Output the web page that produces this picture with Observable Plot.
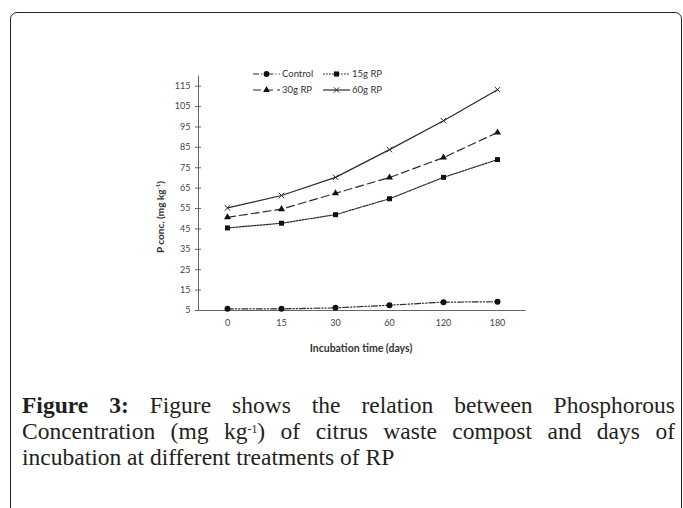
<!DOCTYPE html>
<html>
<head>
<meta charset="utf-8">
<script src="https://cdn.jsdelivr.net/npm/d3@7"></script>
<script src="https://cdn.jsdelivr.net/npm/@observablehq/plot@0.6"></script>
<style>
  html, body { margin: 0; padding: 0; background: #fff; }
  body { width: 683px; height: 508px; position: relative; overflow: hidden; }
  #frame { position: absolute; left: 10px; top: 12px; width: 672px; height: 540px; box-sizing: border-box;
           border: 1.5px solid #222; border-radius: 7px; }
  #chart { position: absolute; left: 0; top: 0; }
  .lg { position: absolute; font-family: Lato, "Open Sans", sans-serif; font-size: 9.5px; color: #333; display: flex; align-items: center; height: 12px; }
  .lg svg { margin-right: 2px; }
  #ylab { position: absolute; left: 160px; top: 217px; transform: translate(-50%, -50%) rotate(-90deg);
          font-family: Lato, sans-serif; font-weight: bold; font-size: 10px; color: #333; white-space: nowrap; }
  #xlab { position: absolute; left: 361px; top: 348px; transform: translate(-50%, -50%);
          font-family: Lato, sans-serif; font-weight: bold; font-size: 10.5px; color: #333; white-space: nowrap; }
  #caption { position: absolute; left: 22px; top: 391.5px; width: 653px;
             font-family: "Liberation Serif", "Times New Roman", serif; font-size: 23.5px; line-height: 26px; color: #231f20; }
  #caption .j { text-align: justify; text-align-last: justify; }
  #caption b { font-weight: bold; }
  sup { font-size: 0.6em; line-height: 0; vertical-align: 0.75em; }
  #caption sup { font-size: 0.5em; vertical-align: 0.52em; }
</style>
</head>
<body>
<div id="frame"></div>
<div id="chart"></div>
<div id="legend"></div>
<div id="ylab">P conc. (mg kg<sup>-1</sup>)</div>
<div id="xlab">Incubation time (days)</div>
<div id="caption">
  <div class="j"><b>Figure 3:</b> Figure shows the relation between Phosphorous</div>
  <div class="j">Concentration (mg kg<sup>-1</sup>) of citrus waste compost and days of</div>
  <div>incubation at different treatments of RP</div>
</div>
<script>
const days = ["0", "15", "30", "60", "120", "180"];
const seriesNames = ["Control", "15g RP", "30g RP", "60g RP"];
const control = [5.8, 5.8, 6.3, 7.6, 9.1, 9.3];
const rp15 = [45.5, 47.8, 52.0, 59.8, 70.3, 79.0];
const rp30 = [50.7, 54.7, 62.5, 70.2, 80.0, 92.3];
const rp60 = [55.3, 61.4, 70.3, 83.9, 98.1, 113.3];
const yTicks = [5, 15, 25, 35, 45, 55, 65, 75, 85, 95, 105, 115];

const values = [control, rp15, rp30, rp60];
const rows = seriesNames.flatMap((s, i) => days.map((d, j) => ({series: s, day: d, value: values[i][j]})));

const styles = {
  "Control": {dash: "6,2,1.2,2,1.2,2", symbol: "circle", r: 3, fill: true},
  "15g RP": {dash: "1.8,1.2", symbol: "square", r: 2.8, fill: true},
  "30g RP": {dash: "8,4", symbol: "triangle", r: 2.6, fill: true},
  "60g RP": {dash: null, symbol: "times", r: 2.6, fill: false}
};
const ink = "#2b2b2b";

const marks = [
  Plot.ruleY([5], {stroke: "#666", strokeWidth: 1}),
  Plot.frame({anchor: "left", stroke: "#666"})
];
for (const s of seriesNames) {
  const st = styles[s];
  const data = rows.filter(r => r.series === s);
  marks.push(Plot.line(data, {x: "day", y: "value", stroke: ink, strokeWidth: 1.2, strokeDasharray: st.dash || undefined}));
  marks.push(Plot.dot(data, {x: "day", y: "value", symbol: st.symbol, r: st.r,
    fill: st.fill ? "#111" : "none", stroke: st.fill ? "none" : ink, strokeWidth: 1}));
}
marks.push(Plot.axisY({ticks: yTicks, tickSize: 3, tickPadding: 5, label: null, stroke: "#666", fill: "#444", fontSize: 9}));
marks.push(Plot.axisY({ticks: yTicks, tickSize: -3, text: null, label: null, stroke: "#666"}));
marks.push(Plot.axisX({tickSize: 0, tickPadding: 9.5, label: null, fill: "#444", fontSize: 9}));

const chart = Plot.plot({
  width: 683,
  height: 360,
  marginLeft: 198,
  marginRight: 157.4,
  marginTop: 75.5,
  marginBottom: 50,
  style: {fontFamily: "Lato, 'Open Sans', sans-serif", background: "transparent"},
  x: {type: "point", domain: days, padding: 0.5, label: null},
  y: {domain: [5, 120], label: null},
  marks
});
document.getElementById("chart").appendChild(chart);

// Legend
const legendPos = {
  "Control": [253, 67.5], "15g RP": [323, 67.5],
  "30g RP": [253, 83.5], "60g RP": [323, 83.5]
};
const legend = document.getElementById("legend");
for (const s of seriesNames) {
  const st = styles[s];
  const div = document.createElement("div");
  div.className = "lg";
  div.style.left = legendPos[s][0] + "px";
  div.style.top = legendPos[s][1] + "px";
  const w = 27;
  const sw = d3.create("svg").attr("width", w).attr("height", 10);
  sw.append("line").attr("x1", 0).attr("x2", w).attr("y1", 5).attr("y2", 5)
    .attr("stroke", ink).attr("stroke-width", 1.2).attr("stroke-dasharray", st.dash);
  const sym = d3.symbol().type({circle: d3.symbolCircle, square: d3.symbolSquare, triangle: d3.symbolTriangle, times: d3.symbolTimes}[st.symbol])
    .size(st.symbol === "circle" ? 26 : st.symbol === "square" ? 26 : 20);
  sw.append("path").attr("d", sym()).attr("transform", `translate(${w / 2},5)`)
    .attr("fill", st.fill ? "#111" : "none").attr("stroke", st.fill ? "none" : ink);
  div.appendChild(sw.node());
  const t = document.createElement("span");
  t.textContent = s;
  div.appendChild(t);
  legend.appendChild(div);
}
</script>
</body>
</html>
